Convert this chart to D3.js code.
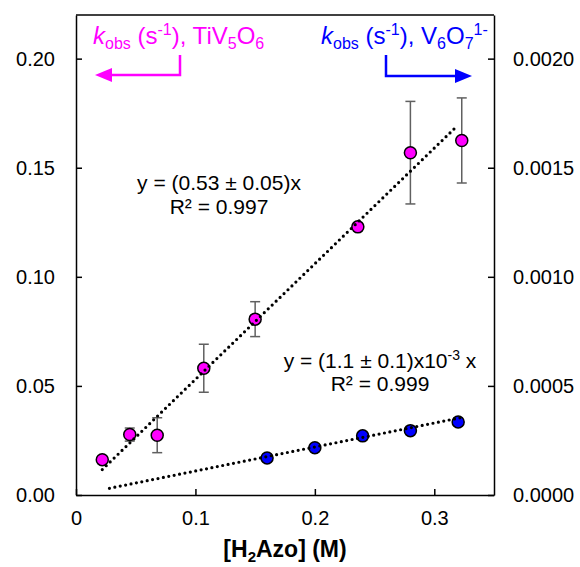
<!DOCTYPE html>
<html><head><meta charset="utf-8">
<script src="https://cdn.jsdelivr.net/npm/d3@7"></script>
<style>body{margin:0;background:#fff}svg{display:block}text{font-family:"Liberation Sans",Arial,sans-serif}</style>
</head><body>
<svg id="c" width="580" height="567"></svg>
<script>
// ---- data ----
const xTiV = [0.022, 0.045, 0.068, 0.107, 0.150, 0.236, 0.280, 0.323];
const yTiV = [0.0162, 0.0277, 0.0274, 0.0581, 0.0806, 0.1229, 0.1569, 0.1625];
const errTiV = [0, 0.003, 0.008, 0.011, 0.008, 0, 0.0235, 0.0195];
const xV6 = [0.16, 0.20, 0.24, 0.28, 0.32];
const yV6 = [0.00017, 0.000217, 0.000271, 0.000295, 0.000335];
const fitTiV = {slope: 0.53, x0: 0.022, x1: 0.317};
const fitV6 = {slope: 0.0011, x0: 0.028, x1: 0.322};
const xTicks = [0, 0.1, 0.2, 0.3];
const xTickLabels = ["0", "0.1", "0.2", "0.3"];
const yLeftTicks = [0, 0.05, 0.10, 0.15, 0.20];
const yRightTicks = [0, 0.0005, 0.0010, 0.0015, 0.0020];

const svg = d3.select("#c");
const L = 76, R = 494, T = 15, B = 495;
const x = d3.scaleLinear().domain([0, 0.35]).range([L, R]);
const yL = d3.scaleLinear().domain([0, 0.22]).range([B, T]);
const yR = d3.scaleLinear().domain([0, 0.0022]).range([B, T]);

// frame
svg.append("line").attr("x1", L).attr("x2", R).attr("y1", T).attr("y2", T).attr("stroke", "#000").attr("stroke-width", 1.5);

function styleAxis(g) {
  g.selectAll("path.domain").attr("stroke", "#000").attr("stroke-width", 1.5);
  g.selectAll(".tick line").attr("stroke", "#000").attr("stroke-width", 1.5);
  g.selectAll(".tick text").attr("font-size", 20).attr("fill", "#000").attr("font-family", '"Liberation Sans",Arial,sans-serif');
}
const gx = svg.append("g").attr("transform", `translate(0,${B})`)
  .call(d3.axisBottom(x).tickValues(xTicks).tickFormat((d, i) => xTickLabels[i]).tickSizeInner(-6).tickSizeOuter(0).tickPadding(16));
styleAxis(gx);
const gl = svg.append("g").attr("transform", `translate(${L},0)`)
  .call(d3.axisLeft(yL).tickValues(yLeftTicks).tickFormat(d3.format(".2f")).tickSizeInner(-6).tickSizeOuter(0).tickPadding(21));
styleAxis(gl);
const gr = svg.append("g").attr("transform", `translate(${R},0)`)
  .call(d3.axisRight(yR).tickValues(yRightTicks).tickFormat(d3.format(".4f")).tickSizeInner(-6).tickSizeOuter(0).tickPadding(19));
styleAxis(gr);

// x title
const xt = svg.append("text").attr("x", (L + R) / 2).attr("y", 557).attr("text-anchor", "middle")
  .attr("font-size", 23).attr("font-weight", "bold");
xt.append("tspan").text("[H");
xt.append("tspan").attr("font-size", 15).attr("dy", 5).text("2");
xt.append("tspan").attr("dy", -5).text("Azo] (M)");

// error bars
const tiv = xTiV.map((d, i) => ({x: d, y: yTiV[i], e: errTiV[i]}));
const eb = svg.append("g").attr("stroke", "#606060").attr("stroke-width", 1.5);
tiv.filter(d => d.e > 0).forEach(d => {
  eb.append("line").attr("x1", x(d.x)).attr("x2", x(d.x)).attr("y1", yL(d.y - d.e)).attr("y2", yL(d.y + d.e));
  [d.y - d.e, d.y + d.e].forEach(v => eb.append("line").attr("x1", x(d.x) - 5).attr("x2", x(d.x) + 5).attr("y1", yL(v)).attr("y2", yL(v)));
});

// markers
svg.append("g").selectAll("circle").data(tiv).join("circle")
  .attr("cx", d => x(d.x)).attr("cy", d => yL(d.y)).attr("r", 6)
  .attr("fill", "#ff00ff").attr("stroke", "#000").attr("stroke-width", 1.5);
svg.append("g").selectAll("circle").data(xV6.map((d, i) => ({x: d, y: yV6[i]}))).join("circle")
  .attr("cx", d => x(d.x)).attr("cy", d => yR(d.y)).attr("r", 6)
  .attr("fill", "#0000ff").attr("stroke", "#000").attr("stroke-width", 1.5);

// fit lines
function fit(f, ys) {
  svg.append("line").attr("x1", x(f.x0)).attr("y1", ys(f.slope * f.x0))
    .attr("x2", x(f.x1)).attr("y2", ys(f.slope * f.x1))
    .attr("stroke", "#000").attr("stroke-width", 3.2).attr("stroke-linecap", "round").attr("stroke-dasharray", "0 5.5");
}
fit(fitTiV, yL);
fit(fitV6, yR);

// equations
function eq(cx, y1, y2, parts, r2) {
  const t = svg.append("text").attr("x", cx).attr("y", y1).attr("text-anchor", "middle").attr("font-size", 21).attr("fill", "#000");
  parts(t);
  svg.append("text").attr("x", cx).attr("y", y2).attr("text-anchor", "middle").attr("font-size", 21).attr("fill", "#000").text(r2);
}
eq(219, 190, 214, t => t.text("y = (0.53 ± 0.05)x"), "R² = 0.997");
eq(380, 368, 391, t => {
  t.append("tspan").text("y = (1.1 ± 0.1)x10");
  t.append("tspan").attr("font-size", 14).attr("dy", -8).text("-3");
  t.append("tspan").attr("dy", 8).text(" x");
}, "R² = 0.999");

// legends
function legend(xs, col, formula) {
  const t = svg.append("text").attr("x", xs).attr("y", 44).attr("font-size", 24).attr("fill", col);
  t.append("tspan").attr("font-style", "italic").text("k");
  t.append("tspan").attr("font-size", 16).attr("dy", 5).text("obs");
  t.append("tspan").attr("dy", -5).text(" (s");
  t.append("tspan").attr("font-size", 16).attr("dy", -9).text("-1");
  t.append("tspan").attr("dy", 9).text("), ");
  formula(t);
}
legend(93, "#ff00ff", t => {
  t.append("tspan").text("TiV");
  t.append("tspan").attr("font-size", 16).attr("dy", 5).text("5");
  t.append("tspan").attr("dy", -5).text("O");
  t.append("tspan").attr("font-size", 16).attr("dy", 5).text("6");
});
legend(321, "#0000ff", t => {
  t.append("tspan").text("V");
  t.append("tspan").attr("font-size", 16).attr("dy", 5).text("6");
  t.append("tspan").attr("dy", -5).text("O");
  t.append("tspan").attr("font-size", 16).attr("dy", 5).text("7");
  t.append("tspan").attr("font-size", 16).attr("dy", -14).text("1-");
});

// arrows
svg.append("path").attr("d", "M180,55V75H110").attr("fill", "none").attr("stroke", "#ff00ff").attr("stroke-width", 2.5);
svg.append("path").attr("d", "M95,75L112,68L112,82Z").attr("fill", "#ff00ff");
svg.append("path").attr("d", "M386,55V76H457").attr("fill", "none").attr("stroke", "#0000ff").attr("stroke-width", 2.5);
svg.append("path").attr("d", "M472,76L455,69L455,83Z").attr("fill", "#0000ff");
</script>
</body></html>
